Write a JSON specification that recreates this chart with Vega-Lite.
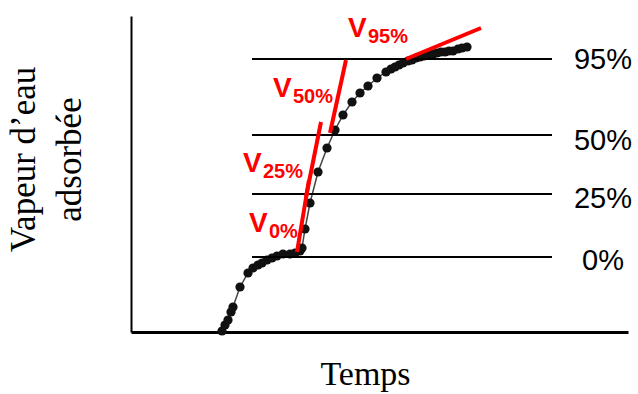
{
  "$schema": "https://vega.github.io/schema/vega-lite/v6.json",
  "width": 497,
  "height": 316,
  "autosize": {"type": "none"},
  "padding": {"left": 131, "top": 16, "right": 10, "bottom": 62},
  "background": "white",
  "config": {"view": {"stroke": null}},
  "datasets": {
    "curve": [
      {"x": 91, "y": 1}, {"x": 94, "y": 7}, {"x": 97, "y": 12}, {"x": 100, "y": 20},
      {"x": 102, "y": 25}, {"x": 109, "y": 45}, {"x": 117, "y": 59}, {"x": 122, "y": 64},
      {"x": 127, "y": 67}, {"x": 131, "y": 69}, {"x": 136, "y": 72}, {"x": 141, "y": 74},
      {"x": 146, "y": 76}, {"x": 152, "y": 78}, {"x": 159, "y": 78}, {"x": 164, "y": 79},
      {"x": 169, "y": 81}, {"x": 171, "y": 84}, {"x": 174, "y": 103}, {"x": 179, "y": 129},
      {"x": 187, "y": 160}, {"x": 196, "y": 184}, {"x": 204, "y": 202}, {"x": 212, "y": 217},
      {"x": 221, "y": 230}, {"x": 229, "y": 239}, {"x": 237, "y": 246}, {"x": 246, "y": 254},
      {"x": 255, "y": 260}, {"x": 260, "y": 263}, {"x": 264, "y": 265}, {"x": 268, "y": 267},
      {"x": 272, "y": 269}, {"x": 277, "y": 271}, {"x": 281, "y": 272}, {"x": 285, "y": 274},
      {"x": 289, "y": 275}, {"x": 293, "y": 276}, {"x": 297, "y": 277}, {"x": 302, "y": 278},
      {"x": 306, "y": 279}, {"x": 310, "y": 280}, {"x": 314, "y": 280}, {"x": 318, "y": 281},
      {"x": 322, "y": 281}, {"x": 327, "y": 283}, {"x": 331, "y": 284}, {"x": 336, "y": 285}
    ],
    "levels": [
      {"label": "95%", "x": 121, "x2": 421, "y": 273, "ly": 272},
      {"label": "50%", "x": 121, "x2": 421, "y": 197, "ly": 191},
      {"label": "25%", "x": 121, "x2": 421, "y": 138, "ly": 133},
      {"label": "0%", "x": 121, "x2": 421, "y": 75, "ly": 71}
    ],
    "tangents": [
      {"name": "V0%", "x": 166, "y": 80, "x2": 178, "y2": 152, "lx": 118, "lyv": 100, "sub": "0%"},
      {"name": "V25%", "x": 175, "y": 135, "x2": 190, "y2": 210, "lx": 112, "lyv": 160, "sub": "25%"},
      {"name": "V50%", "x": 199, "y": 199, "x2": 215, "y2": 272, "lx": 142, "lyv": 235, "sub": "50%"},
      {"name": "V95%", "x": 275, "y": 273, "x2": 350, "y2": 304, "lx": 217, "lyv": 295, "sub": "95%"}
    ]
  },
  "layer": [
    {
      "data": {"name": "curve"},
      "mark": {"type": "line", "color": "#444444", "strokeWidth": 1.5},
      "encoding": {
        "x": {
          "field": "x", "type": "quantitative",
          "scale": {"domain": [0, 497], "nice": false, "zero": false},
          "axis": {
            "title": "Temps", "domain": true, "domainColor": "black", "domainWidth": 3,
            "ticks": false, "labels": false, "grid": false,
            "titleFont": "Liberation Serif", "titleFontSize": 34, "titleFontWeight": "normal",
            "titleColor": "black", "titleX": 234, "titleY": 52,
            "titleBaseline": "alphabetic", "titleAlign": "center"
          }
        },
        "y": {
          "field": "y", "type": "quantitative",
          "scale": {"domain": [0, 316], "nice": false, "zero": false},
          "axis": {
            "title": ["Vapeur d’eau", "adsorbée"], "domain": true, "domainColor": "black", "domainWidth": 2,
            "ticks": false, "labels": false, "grid": false,
            "titleFont": "Liberation Serif", "titleFontSize": 35, "titleFontWeight": "normal",
            "titleColor": "black", "titleX": -97, "titleY": 143, "titleAngle": 270,
            "titleBaseline": "alphabetic", "titleAlign": "center", "titleLineHeight": 46
          }
        }
      }
    },
    {
      "data": {"name": "curve"},
      "mark": {"type": "circle", "color": "#111111", "opacity": 1, "size": 85},
      "encoding": {
        "x": {"field": "x", "type": "quantitative"},
        "y": {"field": "y", "type": "quantitative"}
      }
    },
    {
      "data": {"name": "levels"},
      "mark": {"type": "rule", "color": "black", "strokeWidth": 2},
      "encoding": {
        "x": {"field": "x", "type": "quantitative"},
        "x2": {"field": "x2"},
        "y": {"field": "y", "type": "quantitative"}
      }
    },
    {
      "data": {"name": "levels"},
      "mark": {"type": "text", "font": "Liberation Sans", "fontSize": 29, "color": "black", "align": "center", "baseline": "middle"},
      "encoding": {
        "x": {"datum": 472, "type": "quantitative"},
        "y": {"field": "ly", "type": "quantitative"},
        "text": {"field": "label"}
      }
    },
    {
      "data": {"name": "tangents"},
      "mark": {"type": "rule", "color": "#ff0000", "strokeWidth": 4},
      "encoding": {
        "x": {"field": "x", "type": "quantitative"},
        "y": {"field": "y", "type": "quantitative"},
        "x2": {"field": "x2"},
        "y2": {"field": "y2"}
      }
    },
    {
      "data": {"name": "tangents"},
      "mark": {"type": "text", "font": "Liberation Sans", "fontWeight": "bold", "fontSize": 28, "color": "#ff0000", "align": "left", "baseline": "alphabetic"},
      "encoding": {
        "x": {"field": "lx", "type": "quantitative"},
        "y": {"field": "lyv", "type": "quantitative"},
        "text": {"value": "V"}
      }
    },
    {
      "data": {"name": "tangents"},
      "mark": {"type": "text", "font": "Liberation Sans", "fontWeight": "bold", "fontSize": 20, "color": "#ff0000", "align": "left", "baseline": "alphabetic", "dx": 20, "dy": 6},
      "encoding": {
        "x": {"field": "lx", "type": "quantitative"},
        "y": {"field": "lyv", "type": "quantitative"},
        "text": {"field": "sub"}
      }
    }
  ]
}
